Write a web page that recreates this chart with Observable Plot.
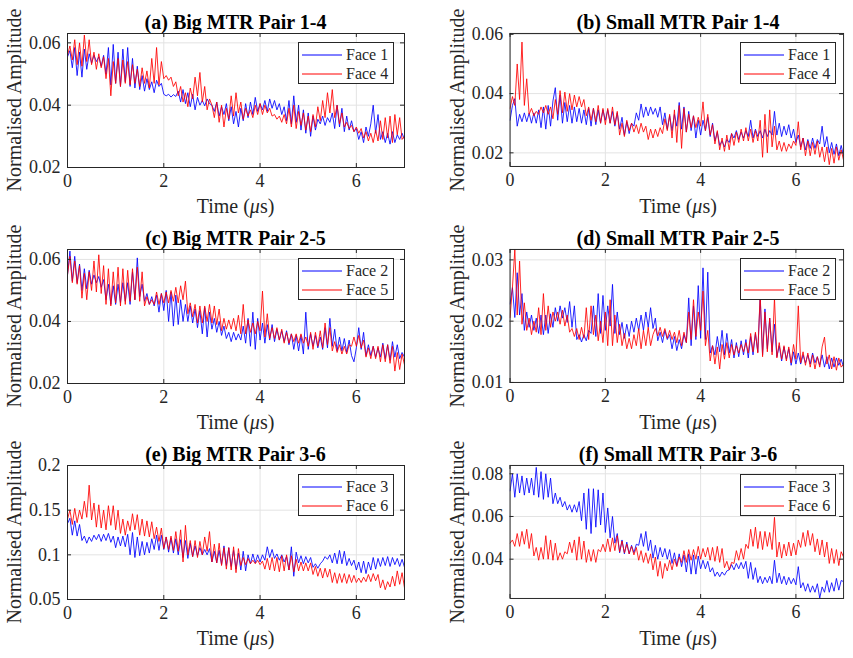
<!DOCTYPE html>
<html><head><meta charset="utf-8">
<script src="https://cdn.jsdelivr.net/npm/d3@7"></script>
<script src="https://cdn.jsdelivr.net/npm/@observablehq/plot@0.6"></script>
<style>
html,body{margin:0;padding:0;background:#fff;}
body{width:853px;height:658px;position:relative;overflow:hidden;font-family:'Liberation Serif',serif;color:#262626;}
.abs{position:absolute;font-family:'Liberation Serif',serif;}
.title{font-weight:bold;font-size:20px;color:#000;white-space:nowrap;transform:translate(-50%,-50%);line-height:1;}
.xlabel{font-size:20px;white-space:nowrap;transform:translate(-50%,-50%);line-height:1;}
.ylabel{font-size:20px;white-space:nowrap;transform:translate(-50%,-50%) rotate(-90deg);line-height:1;}
.legend{background:#fff;border:1px solid #262626;box-sizing:border-box;font-size:16px;}
.legrow{position:absolute;left:0;height:18px;display:flex;align-items:center;font-family:'Liberation Serif',serif;}
.legrow svg{margin-left:3px;margin-right:4px;}
svg text{font-family:'Liberation Serif',serif;}
</style></head><body>
<script>
// ---------------- data ----------------
const timeUs = [
0,0.05,0.1,0.15,0.2,0.25,0.3,0.35,0.4,0.45,
0.5,0.55,0.6,0.65,0.7,0.75,0.8,0.85,0.9,0.95,
1,1.05,1.1,1.15,1.2,1.25,1.3,1.35,1.4,1.45,
1.5,1.55,1.6,1.65,1.7,1.75,1.8,1.85,1.9,1.95,
2,2.05,2.1,2.15,2.2,2.25,2.3,2.35,2.4,2.45,
2.5,2.55,2.6,2.65,2.7,2.75,2.8,2.85,2.9,2.95,
3,3.05,3.1,3.15,3.2,3.25,3.3,3.35,3.4,3.45,
3.5,3.55,3.6,3.65,3.7,3.75,3.8,3.85,3.9,3.95,
4,4.05,4.1,4.15,4.2,4.25,4.3,4.35,4.4,4.45,
4.5,4.55,4.6,4.65,4.7,4.75,4.8,4.85,4.9,4.95,
5,5.05,5.1,5.15,5.2,5.25,5.3,5.35,5.4,5.45,
5.5,5.55,5.6,5.65,5.7,5.75,5.8,5.85,5.9,5.95,
6,6.05,6.1,6.15,6.2,6.25,6.3,6.35,6.4,6.45,
6.5,6.55,6.6,6.65,6.7,6.75,6.8,6.85,6.9,6.95,
7];

// (a) Big MTR Pair 1-4
const bigPair14Face1 = [
.0555,.0575,.0520,.0585,.0495,.0570,.0490,.0580,.0515,.0565,
.0535,.0560,.0540,.0555,.0525,.0560,.0500,.0585,.0465,.0595,
.0470,.0570,.0460,.0580,.0475,.0585,.0460,.0550,.0455,.0525,
.0450,.0495,.0445,.0485,.0450,.0475,.0440,.0480,.0460,.0470,
.0435,.0430,.0435,.0426,.0434,.0428,.0445,.0410,.0450,.0405,
.0440,.0395,.0435,.0385,.0425,.0400,.0415,.0398,.0420,.0405,
.0400,.0380,.0410,.0365,.0395,.0370,.0405,.0350,.0395,.0340,
.0380,.0330,.0390,.0350,.0405,.0360,.0410,.0370,.0425,.0380,
.0405,.0385,.0415,.0380,.0420,.0390,.0415,.0385,.0405,.0370,
.0395,.0350,.0415,.0340,.0430,.0345,.0400,.0320,.0385,.0310,
.0375,.0300,.0365,.0320,.0355,.0340,.0365,.0335,.0360,.0345,
.0375,.0325,.0400,.0330,.0390,.0315,.0365,.0320,.0350,.0315,
.0325,.0290,.0315,.0280,.0330,.0300,.0340,.0400,.0310,.0370,
.0290,.0315,.0280,.0310,.0275,.0315,.0280,.0305,.0290,.0310,
.0290];
const bigPair14Face4 = [
.0560,.0590,.0545,.0610,.0530,.0600,.0525,.0625,.0540,.0610,
.0530,.0570,.0515,.0565,.0520,.0555,.0485,.0550,.0430,.0540,
.0470,.0550,.0460,.0545,.0470,.0540,.0465,.0530,.0470,.0515,
.0460,.0520,.0470,.0510,.0455,.0550,.0470,.0585,.0465,.0540,
.0485,.0495,.0480,.0490,.0460,.0475,.0430,.0460,.0410,.0440,
.0395,.0455,.0420,.0490,.0430,.0505,.0410,.0460,.0385,.0420,
.0400,.0360,.0410,.0345,.0400,.0330,.0390,.0355,.0430,.0365,
.0440,.0375,.0410,.0355,.0390,.0365,.0385,.0360,.0400,.0370,
.0405,.0370,.0400,.0375,.0390,.0365,.0370,.0355,.0365,.0345,
.0370,.0340,.0390,.0330,.0400,.0325,.0380,.0335,.0375,.0320,
.0365,.0315,.0370,.0330,.0395,.0350,.0415,.0360,.0440,.0375,
.0450,.0360,.0400,.0340,.0375,.0330,.0345,.0325,.0335,.0315,
.0330,.0310,.0325,.0295,.0315,.0285,.0310,.0280,.0320,.0285,
.0350,.0290,.0360,.0295,.0365,.0280,.0370,.0305,.0360,.0290,
.0300];

// (b) Small MTR Pair 1-4
const smallPair14Face1 = [
.0310,.0360,.0383,.0290,.0330,.0305,.0335,.0305,.0334,.0300,
.0335,.0300,.0345,.0285,.0355,.0280,.0360,.0290,.0375,.0420,
.0310,.0395,.0300,.0370,.0305,.0360,.0300,.0355,.0305,.0350,
.0300,.0345,.0295,.0350,.0290,.0350,.0295,.0345,.0300,.0345,
.0310,.0345,.0300,.0340,.0290,.0335,.0280,.0320,.0260,.0305,
.0265,.0300,.0290,.0335,.0310,.0365,.0320,.0355,.0325,.0355,
.0330,.0350,.0320,.0355,.0295,.0335,.0280,.0325,.0275,.0330,
.0290,.0370,.0280,.0355,.0270,.0340,.0275,.0325,.0250,.0310,
.0260,.0310,.0275,.0320,.0255,.0300,.0240,.0270,.0225,.0240,
.0220,.0245,.0235,.0265,.0250,.0275,.0245,.0270,.0250,.0275,
.0255,.0310,.0250,.0280,.0255,.0275,.0250,.0280,.0255,.0275,
.0260,.0340,.0260,.0300,.0255,.0290,.0260,.0295,.0250,.0280,
.0235,.0260,.0220,.0250,.0210,.0245,.0215,.0250,.0215,.0245,
.0230,.0290,.0220,.0255,.0200,.0235,.0195,.0230,.0190,.0225,
.0190];
const smallPair14Face4 = [
.0350,.0390,.0360,.0500,.0380,.0574,.0360,.0450,.0330,.0350,
.0325,.0340,.0330,.0355,.0335,.0360,.0330,.0355,.0315,.0380,
.0330,.0410,.0335,.0405,.0340,.0400,.0345,.0395,.0355,.0390,
.0355,.0380,.0325,.0355,.0310,.0350,.0305,.0360,.0300,.0350,
.0295,.0350,.0300,.0355,.0295,.0340,.0260,.0300,.0255,.0310,
.0275,.0300,.0270,.0295,.0265,.0300,.0270,.0290,.0245,.0280,
.0250,.0280,.0255,.0285,.0265,.0315,.0275,.0330,.0250,.0345,
.0235,.0360,.0215,.0350,.0270,.0330,.0285,.0325,.0285,.0320,
.0290,.0372,.0275,.0330,.0260,.0295,.0230,.0275,.0210,.0250,
.0205,.0260,.0210,.0265,.0225,.0270,.0235,.0280,.0240,.0285,
.0240,.0280,.0235,.0275,.0240,.0310,.0185,.0330,.0200,.0345,
.0220,.0290,.0210,.0240,.0205,.0235,.0205,.0230,.0215,.0240,
.0225,.0305,.0210,.0250,.0190,.0240,.0190,.0235,.0195,.0240,
.0185,.0220,.0170,.0220,.0160,.0215,.0165,.0220,.0175,.0210,
.0175];

// (c) Big MTR Pair 2-5
const bigPair25Face2 = [
.0550,.0627,.0530,.0610,.0525,.0585,.0500,.0570,.0505,.0565,
.0520,.0550,.0525,.0545,.0510,.0535,.0470,.0520,.0455,.0515,
.0455,.0520,.0460,.0525,.0465,.0525,.0455,.0560,.0470,.0605,
.0480,.0520,.0465,.0490,.0455,.0480,.0450,.0485,.0430,.0490,
.0435,.0500,.0400,.0495,.0385,.0485,.0390,.0470,.0400,.0455,
.0400,.0450,.0395,.0440,.0380,.0435,.0360,.0445,.0350,.0430,
.0375,.0410,.0365,.0400,.0355,.0385,.0345,.0365,.0335,.0365,
.0340,.0360,.0340,.0385,.0330,.0410,.0320,.0430,.0310,.0410,
.0340,.0395,.0330,.0390,.0340,.0390,.0335,.0375,.0340,.0370,
.0335,.0370,.0325,.0360,.0310,.0355,.0305,.0355,.0295,.0430,
.0310,.0360,.0320,.0355,.0315,.0350,.0310,.0380,.0315,.0410,
.0320,.0375,.0305,.0350,.0305,.0345,.0300,.0340,.0290,.0270,
.0315,.0380,.0310,.0365,.0290,.0325,.0290,.0320,.0285,.0315,
.0285,.0330,.0280,.0325,.0275,.0335,.0285,.0325,.0280,.0300,
.0285];
const bigPair25Face5 = [
.0550,.0610,.0525,.0595,.0520,.0580,.0475,.0555,.0470,.0560,
.0500,.0595,.0495,.0615,.0490,.0580,.0455,.0570,.0450,.0560,
.0460,.0575,.0450,.0570,.0455,.0565,.0465,.0570,.0470,.0575,
.0465,.0560,.0450,.0480,.0455,.0470,.0455,.0495,.0455,.0490,
.0460,.0495,.0460,.0500,.0465,.0510,.0460,.0515,.0470,.0530,
.0425,.0460,.0415,.0455,.0395,.0450,.0395,.0450,.0400,.0455,
.0395,.0450,.0390,.0440,.0370,.0410,.0375,.0405,.0375,.0410,
.0370,.0420,.0360,.0455,.0360,.0405,.0365,.0395,.0360,.0400,
.0370,.0498,.0350,.0425,.0345,.0380,.0345,.0380,.0340,.0375,
.0330,.0365,.0330,.0360,.0335,.0360,.0330,.0360,.0330,.0350,
.0320,.0365,.0310,.0365,.0320,.0370,.0315,.0395,.0325,.0380,
.0305,.0335,.0300,.0325,.0295,.0320,.0295,.0325,.0320,.0350,
.0320,.0355,.0315,.0340,.0285,.0315,.0280,.0320,.0280,.0320,
.0270,.0325,.0270,.0325,.0265,.0320,.0240,.0300,.0245,.0295,
.0260];

// (d) Small MTR Pair 2-5
const smallPair25Face2 = [
.0228,.0255,.0206,.0279,.0210,.0245,.0185,.0215,.0190,.0210,
.0185,.0205,.0180,.0210,.0178,.0210,.0180,.0212,.0190,.0222,
.0200,.0225,.0205,.0222,.0198,.0232,.0190,.0225,.0170,.0178,
.0166,.0178,.0168,.0185,.0180,.0225,.0175,.0245,.0180,.0242,
.0185,.0225,.0192,.0260,.0180,.0215,.0178,.0198,.0172,.0195,
.0175,.0200,.0182,.0205,.0185,.0210,.0185,.0215,.0190,.0222,
.0188,.0205,.0168,.0182,.0165,.0185,.0170,.0178,.0155,.0175,
.0152,.0170,.0155,.0178,.0165,.0238,.0160,.0225,.0170,.0258,
.0172,.0287,.0170,.0280,.0148,.0160,.0145,.0175,.0150,.0185,
.0145,.0180,.0148,.0170,.0140,.0165,.0142,.0168,.0145,.0170,
.0140,.0175,.0145,.0180,.0150,.0238,.0145,.0220,.0155,.0205,
.0150,.0195,.0142,.0160,.0135,.0158,.0138,.0155,.0128,.0150,
.0130,.0148,.0130,.0145,.0132,.0145,.0130,.0148,.0132,.0142,
.0128,.0145,.0125,.0142,.0122,.0140,.0125,.0140,.0128,.0138,
.0125];
const smallPair25Face5 = [
.0206,.0255,.0317,.0210,.0298,.0195,.0230,.0185,.0205,.0178,
.0200,.0182,.0222,.0178,.0245,.0185,.0225,.0190,.0215,.0200,
.0215,.0195,.0218,.0192,.0210,.0182,.0188,.0175,.0188,.0170,
.0190,.0172,.0222,.0170,.0225,.0178,.0210,.0168,.0200,.0165,
.0215,.0160,.0235,.0160,.0210,.0165,.0195,.0160,.0180,.0155,
.0172,.0155,.0178,.0160,.0188,.0155,.0185,.0160,.0190,.0160,
.0178,.0188,.0176,.0190,.0175,.0188,.0172,.0185,.0170,.0182,
.0165,.0185,.0160,.0182,.0165,.0215,.0170,.0235,.0175,.0215,
.0185,.0249,.0160,.0185,.0135,.0160,.0130,.0158,.0122,.0162,
.0138,.0165,.0140,.0162,.0145,.0160,.0148,.0162,.0150,.0165,
.0148,.0180,.0150,.0182,.0148,.0244,.0142,.0215,.0150,.0205,
.0145,.0238,.0140,.0165,.0138,.0160,.0135,.0158,.0132,.0162,
.0138,.0225,.0132,.0150,.0128,.0148,.0125,.0145,.0122,.0142,
.0125,.0158,.0174,.0130,.0145,.0122,.0142,.0120,.0140,.0125,
.0130];

// (e) Big MTR Pair 3-6
const bigPair36Face3 = [
.135,.141,.122,.138,.121,.134,.116,.121,.113,.120,
.115,.122,.117,.123,.115,.123,.116,.124,.114,.121,
.108,.120,.110,.121,.109,.123,.100,.125,.097,.120,
.099,.115,.100,.114,.102,.118,.106,.122,.105,.122,
.106,.120,.103,.119,.102,.118,.100,.117,.097,.116,
.096,.113,.098,.110,.099,.108,.100,.106,.100,.107,
.092,.104,.091,.105,.089,.110,.088,.108,.087,.105,
.084,.102,.083,.104,.082,.100,.090,.101,.091,.100,
.092,.100,.094,.109,.097,.106,.096,.101,.094,.100,
.092,.098,.083,.109,.076,.103,.091,.099,.090,.098,
.091,.097,.086,.090,.085,.090,.093,.098,.095,.100,
.091,.102,.090,.105,.090,.104,.088,.096,.088,.094,
.083,.092,.080,.093,.079,.092,.083,.097,.084,.096,
.087,.097,.088,.098,.087,.097,.089,.096,.087,.095,
.086];
const bigPair36Face6 = [
.140,.150,.134,.152,.136,.150,.140,.160,.142,.178,
.139,.158,.131,.156,.130,.150,.128,.155,.133,.155,
.128,.150,.124,.140,.122,.138,.127,.146,.128,.145,
.122,.140,.121,.138,.120,.137,.118,.131,.115,.130,
.107,.120,.106,.121,.105,.126,.104,.128,.092,.133,
.100,.116,.098,.116,.097,.115,.100,.120,.104,.126,
.092,.112,.091,.113,.088,.108,.084,.108,.083,.109,
.080,.107,.088,.097,.089,.096,.090,.094,.090,.094,
.089,.093,.084,.096,.083,.097,.082,.097,.081,.099,
.082,.100,.083,.099,.081,.095,.082,.092,.082,.091,
.082,.091,.078,.087,.076,.085,.074,.085,.075,.084,
.069,.080,.068,.079,.069,.079,.068,.078,.069,.077,
.069,.074,.069,.075,.070,.078,.070,.079,.071,.078,
.063,.072,.061,.070,.064,.076,.065,.082,.067,.080,
.063];

// (f) Small MTR Pair 3-6
const smallPair36Face3 = [
.0720,.0800,.0690,.0800,.0710,.0790,.0700,.0780,.0710,.0780,
.0700,.0830,.0690,.0810,.0680,.0800,.0690,.0780,.0660,.0710,
.0660,.0690,.0645,.0670,.0630,.0655,.0620,.0655,.0620,.0670,
.0580,.0710,.0540,.0730,.0520,.0730,.0550,.0725,.0560,.0710,
.0525,.0640,.0500,.0600,.0475,.0520,.0430,.0490,.0425,.0480,
.0425,.0465,.0430,.0470,.0465,.0520,.0460,.0530,.0440,.0490,
.0405,.0465,.0400,.0455,.0410,.0450,.0400,.0445,.0380,.0430,
.0370,.0425,.0365,.0420,.0340,.0425,.0330,.0420,.0330,.0415,
.0355,.0395,.0355,.0390,.0340,.0360,.0320,.0340,.0318,.0340,
.0325,.0345,.0350,.0375,.0350,.0380,.0355,.0385,.0355,.0390,
.0310,.0385,.0305,.0360,.0290,.0320,.0285,.0315,.0290,.0320,
.0285,.0395,.0290,.0335,.0285,.0320,.0280,.0315,.0285,.0310,
.0280,.0365,.0265,.0290,.0250,.0285,.0245,.0275,.0245,.0285,
.0218,.0270,.0245,.0300,.0245,.0290,.0250,.0310,.0255,.0300,
.0295];
const smallPair36Face6 = [
.0475,.0490,.0460,.0520,.0460,.0530,.0470,.0540,.0450,.0520,
.0415,.0455,.0395,.0455,.0400,.0510,.0400,.0490,.0395,.0475,
.0395,.0430,.0400,.0435,.0425,.0480,.0430,.0490,.0395,.0505,
.0400,.0485,.0385,.0445,.0390,.0445,.0385,.0445,.0435,.0470,
.0435,.0495,.0435,.0500,.0440,.0510,.0435,.0485,.0430,.0470,
.0425,.0460,.0420,.0455,.0395,.0440,.0385,.0430,.0380,.0425,
.0350,.0410,.0320,.0390,.0310,.0380,.0345,.0395,.0350,.0400,
.0365,.0410,.0385,.0440,.0385,.0445,.0395,.0445,.0400,.0460,
.0400,.0450,.0410,.0455,.0395,.0455,.0390,.0460,.0385,.0450,
.0360,.0390,.0350,.0385,.0380,.0440,.0395,.0450,.0400,.0470,
.0450,.0540,.0460,.0550,.0450,.0530,.0445,.0530,.0460,.0525,
.0445,.0596,.0410,.0480,.0405,.0470,.0415,.0480,.0415,.0475,
.0420,.0490,.0455,.0525,.0460,.0535,.0465,.0520,.0435,.0495,
.0420,.0490,.0410,.0480,.0380,.0450,.0380,.0445,.0370,.0435,
.0410];

// ticks
const xTicks = [0, 2, 4, 6];
const xTickLabels = ["0", "2", "4", "6"];
const yTicksA = [0.02, 0.04, 0.06];
const yTickLabelsA = ["0.02", "0.04", "0.06"];
const yTicksD = [0.01, 0.02, 0.03];
const yTickLabelsD = ["0.01", "0.02", "0.03"];
const yTicksE = [0.05, 0.1, 0.15, 0.2];
const yTickLabelsE = ["0.05", "0.1", "0.15", "0.2"];
const yTicksF = [0.04, 0.06, 0.08];
const yTickLabelsF = ["0.04", "0.06", "0.08"];

const titles = ["(a) Big MTR Pair 1-4", "(b) Small MTR Pair 1-4", "(c) Big MTR Pair 2-5",
                "(d) Small MTR Pair 2-5", "(e) Big MTR Pair 3-6", "(f) Small MTR Pair 3-6"];
const seriesNames = [["Face 1", "Face 4"], ["Face 1", "Face 4"], ["Face 2", "Face 5"],
                     ["Face 2", "Face 5"], ["Face 3", "Face 6"], ["Face 3", "Face 6"]];
const yLabel = "Normalised Amplitude";

// ---------------- layout ----------------
const SERIF = "'Liberation Serif', serif";
const BLUE = "#0000ff", RED = "#ff0000";
const colLeft = [67, 510], colWidth = [337, 336];
const rowTop = [33, 249, 465], plotH = 134;

const panels = [
  {blue: bigPair14Face1, red: bigPair14Face4, yDomain: [0.02, 0.063], yTicks: yTicksA, yLabels: yTickLabelsA},
  {blue: smallPair14Face1, red: smallPair14Face4, yDomain: [0.0154, 0.0603], yTicks: yTicksA, yLabels: yTickLabelsA},
  {blue: bigPair25Face2, red: bigPair25Face5, yDomain: [0.02, 0.0632], yTicks: yTicksA, yLabels: yTickLabelsA},
  {blue: smallPair25Face2, red: smallPair25Face5, yDomain: [0.01, 0.0317], yTicks: yTicksD, yLabels: yTickLabelsD},
  {blue: bigPair36Face3, red: bigPair36Face6, yDomain: [0.05, 0.2], yTicks: yTicksE, yLabels: yTickLabelsE},
  {blue: smallPair36Face3, red: smallPair36Face6, yDomain: [0.0216, 0.0839], yTicks: yTicksF, yLabels: yTickLabelsF}
];

const ML = 60, MR = 10, MT = 5, MB = 25;

function addDiv(cls, left, top, html) {
  const d = document.createElement("div");
  d.className = "abs " + cls;
  d.style.left = left + "px";
  d.style.top = top + "px";
  d.style.fontFamily = SERIF;
  if (html != null) d.innerHTML = html;
  document.body.appendChild(d);
  return d;
}

panels.forEach((p, k) => {
  const col = k % 2, row = Math.floor(k / 2);
  const left = colLeft[col], top = rowTop[row], W = colWidth[col];
  const blueRows = timeUs.map((t, i) => ({t, v: p.blue[i]}));
  const redRows = timeUs.map((t, i) => ({t, v: p.red[i]}));
  const yLab = d => p.yLabels[p.yTicks.indexOf(d)];
  const xLab = d => xTickLabels[xTicks.indexOf(d)];
  const frameColor = "#262626", gridColor = "#e3e3e3";
  const svg = Plot.plot({
    width: ML + W + MR,
    height: MT + plotH + MB,
    marginLeft: ML, marginRight: MR, marginTop: MT, marginBottom: MB,
    style: {fontFamily: SERIF, fontSize: "18px", color: frameColor, background: "transparent", overflow: "visible"},
    x: {domain: [0, 7]},
    y: {domain: p.yDomain},
    marks: [
      Plot.gridX(xTicks, {stroke: gridColor, strokeOpacity: 1}),
      Plot.gridY(p.yTicks, {stroke: gridColor, strokeOpacity: 1}),
      Plot.line(blueRows, {x: "t", y: "v", stroke: BLUE, strokeWidth: 0.85, clip: true}),
      Plot.line(redRows, {x: "t", y: "v", stroke: RED, strokeWidth: 0.85, clip: true}),
      Plot.tickY(p.yTicks, {stroke: frameColor, insetRight: W - 4}),
      Plot.tickY(p.yTicks, {stroke: frameColor, insetLeft: W - 4}),
      Plot.tickX(xTicks, {stroke: frameColor, insetTop: plotH - 4}),
      Plot.tickX(xTicks, {stroke: frameColor, insetBottom: plotH - 4}),
      Plot.axisX(xTicks, {tickSize: 0, tickPadding: 7, tickFormat: xLab, label: null, fill: frameColor, fontFamily: SERIF}),
      Plot.axisY(p.yTicks, {tickSize: 0, tickPadding: 7, tickFormat: yLab, label: null, fill: frameColor, fontFamily: SERIF}),
      Plot.frame({stroke: frameColor, strokeWidth: 1})
    ]
  });
  svg.style.fontFamily = SERIF;
  const wrap = addDiv("", left - ML, top - MT);
  wrap.appendChild(svg);

  addDiv("title", left + W / 2, top - 11, titles[k]);
  addDiv("xlabel", left + W / 2, top + plotH + 39, "Time (<i>μ</i>s)");
  addDiv("ylabel", left - 53, top + plotH / 2, yLabel);
  const lg = addDiv("legend", left + W - 10 - 96, top + 9);
  lg.style.width = "96px"; lg.style.height = "42px";
  [BLUE, RED].forEach((c, j) => {
    const r = document.createElement("div");
    r.className = "legrow";
    r.style.top = (2.5 + j * 19) + "px";
    r.innerHTML = `<svg width="40" height="4"><line x1="0" x2="40" y1="2" y2="2" stroke="${c}" stroke-width="1"/></svg><span>${seriesNames[k][j]}</span>`;
    lg.appendChild(r);
  });
});
</script>
</body></html>
